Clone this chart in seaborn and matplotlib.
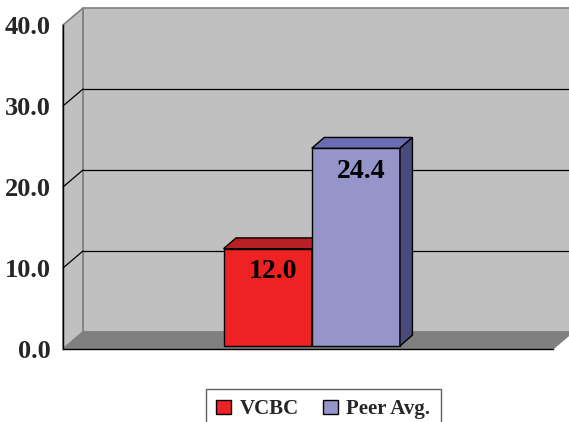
import matplotlib
matplotlib.use("Agg")
import matplotlib.pyplot as plt
import matplotlib.transforms as mtransforms
from matplotlib.patches import Polygon
import seaborn as sns
import pandas as pd
import numpy as np

# Chart data
series = ["VCBC", "Peer Avg."]
values = [12.0, 24.4]
y_ticks = [0, 10, 20, 30, 40]
front_colors = ["#ee2222", "#9595c9"]
top_colors = ["#b82025", "#6c6cb4"]
side_colors = ["#8a1a1e", "#4a4a7c"]

df = pd.DataFrame({"group": [""] * len(series), "series": series, "value": values})

sns.set_style("white")
plt.rcParams["font.family"] = ["Liberation Serif", "DejaVu Serif"]

DPI = 100
W, H = 569, 422
fig = plt.figure(figsize=(W / DPI, H / DPI), dpi=DPI)
# front plane of the 3-D box
ax = fig.add_axes([63 / W, (H - 349) / H, 490 / W, 324 / H])
ax.set_facecolor("none")

DEPTH = np.array([20.0, 17.0])        # box depth in pixels (right, up)
BAR_DEPTH = np.array([12.5, 10.8])    # bar depth in pixels
BAR_SHIFT = (DEPTH - BAR_DEPTH) / 2   # bars sit in the middle of the box

sns.barplot(data=df, x="group", y="value", hue="series", palette=front_colors,
            width=0.36, gap=0, edgecolor="black", linewidth=1.0,
            saturation=1, ax=ax, legend=True)
bars = [c.patches[0] for c in ax.containers]

ax.set_xlim(-0.5, 0.5)
ax.set_ylim(0, 40)

# --- 3-D box: back wall, left wall, floor -------------------------------
def disp(xy, off=(0, 0)):
    return ax.transAxes.transform(xy) + np.asarray(off)

ident = mtransforms.IdentityTransform()
back = [disp((0, 0), DEPTH), disp((1, 0), DEPTH), disp((1, 1), DEPTH), disp((0, 1), DEPTH)]
ax.add_patch(Polygon(back, closed=True, facecolor="#c0c0c0", edgecolor="#808080",
                     linewidth=1.2, transform=ident, clip_on=False, zorder=0.1))
side = [disp((0, 0)), disp((0, 0), DEPTH), disp((0, 1), DEPTH), disp((0, 1))]
ax.add_patch(Polygon(side, closed=True, facecolor="#c0c0c0", edgecolor="#808080",
                     linewidth=1.2, transform=ident, clip_on=False, zorder=0.1))

# gridlines on the back wall and their diagonals on the side wall
for yv in y_ticks[1:-1]:
    p_front = ax.transData.transform((-0.5, yv))
    p_back = p_front + DEPTH
    p_right = ax.transData.transform((0.5, yv)) + DEPTH
    ax.add_line(plt.Line2D([p_back[0], p_right[0]], [p_back[1], p_right[1]],
                           color="black", linewidth=0.9, transform=ident,
                           clip_on=False, zorder=0.3))
    ax.add_line(plt.Line2D([p_front[0], p_back[0]], [p_front[1], p_back[1]],
                           color="black", linewidth=0.9, transform=ident,
                           clip_on=False, zorder=0.3))

floor = [disp((0, 0)), disp((1, 0)), disp((1, 0), DEPTH), disp((0, 0), DEPTH)]
ax.add_patch(Polygon(floor, closed=True, facecolor="#808080", edgecolor="#808080",
                     linewidth=0.8, transform=ident, clip_on=False, zorder=0.5))

# --- 3-D bars -----------------------------------------------------------
bar_shift = mtransforms.Affine2D().translate(*BAR_SHIFT)
for i, (bar, val) in enumerate(zip(bars, values)):
    tr = ax.transData + bar_shift
    bar.set_transform(tr)
    bar.set_zorder(2 + i)
    x0, w = bar.get_x(), bar.get_width()
    br = tr.transform((x0 + w, 0))
    tl = tr.transform((x0, val))
    trr = tr.transform((x0 + w, val))
    top = [tl, trr, trr + BAR_DEPTH, tl + BAR_DEPTH]
    ax.add_patch(Polygon(top, closed=True, facecolor=top_colors[i], edgecolor="black",
                         linewidth=1.0, transform=ident, clip_on=False, zorder=2 + i))
    sidef = [br, trr, trr + BAR_DEPTH, br + BAR_DEPTH]
    ax.add_patch(Polygon(sidef, closed=True, facecolor=side_colors[i], edgecolor="black",
                         linewidth=1.0, transform=ident, clip_on=False, zorder=2 + i))
    lab_tr = tr + mtransforms.Affine2D().translate(5, -23)
    ax.text(x0 + w / 2, val, f"{val:.1f}", transform=lab_tr, ha="center", va="center",
            fontsize=20, fontweight="bold", color="black", zorder=10)

# --- axes ----------------------------------------------------------------
for s in ["top", "right"]:
    ax.spines[s].set_visible(False)
for s in ["left", "bottom"]:
    ax.spines[s].set_color("black")
    ax.spines[s].set_linewidth(1.0)
    ax.spines[s].set_zorder(1.5)
ax.set_yticks(y_ticks, labels=[f"{v:.1f}" for v in y_ticks])
ax.set_xticks([-0.5, 0.5], labels=["", ""])
ax.tick_params(axis="both", direction="out", length=5, width=1, color="black")
ax.tick_params(axis="y", pad=4, labelsize=19)
for t in ax.get_yticklabels():
    t.set_fontweight("bold")
ax.set_xlabel("")
ax.set_ylabel("")
ax.grid(False)

handles, labels = ax.get_legend_handles_labels()
ax.legend(handles, labels, loc="upper left", ncol=2,
          bbox_to_anchor=(206 / W, 1 - 389 / H), bbox_transform=fig.transFigure,
          frameon=True, fancybox=False, edgecolor="#606060", framealpha=1,
          prop={"family": "Liberation Serif", "weight": "bold", "size": 15},
          handlelength=0.7, handleheight=0.7, handletextpad=0.4,
          columnspacing=1.2, borderpad=0.5, borderaxespad=0)

fig.savefig("out.png", dpi=DPI)
